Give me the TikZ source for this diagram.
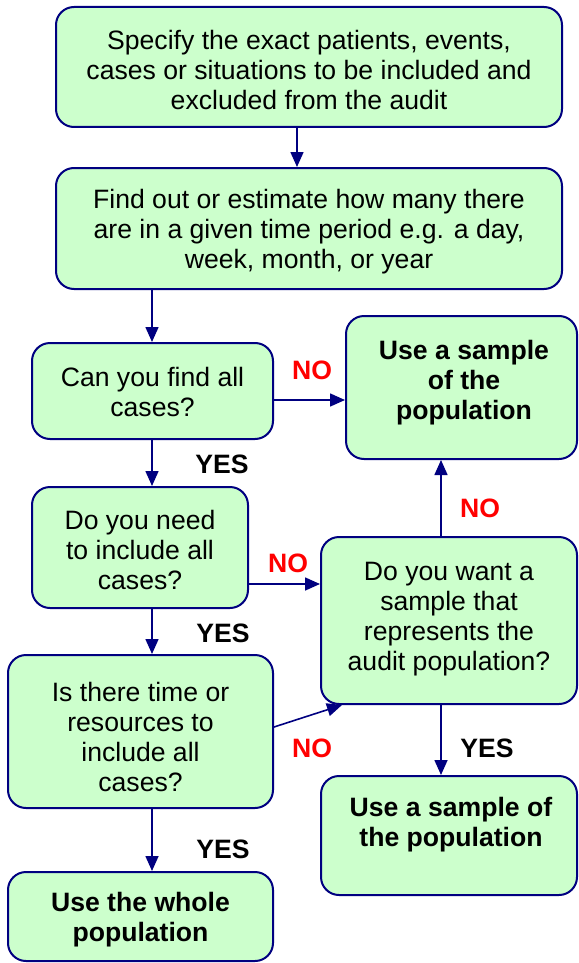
\documentclass[tikz,border=0pt]{standalone}
\usepackage{fontspec}
\setmainfont{Liberation Sans}
\usetikzlibrary{arrows.meta,calc}
\definecolor{boxfill}{HTML}{CCFFCC}
\definecolor{navy}{HTML}{000080}
\definecolor{nored}{HTML}{FF0000}
\begin{document}
\begin{tikzpicture}[x=1pt,y=-1pt,
 box/.style={draw=navy, line width=2pt, fill=boxfill, rounded corners=18pt, inner sep=0pt},
 txt/.style={align=center, font=\fontsize{26.6}{30}\selectfont, inner sep=0pt},
 txtb/.style={align=center, font=\fontsize{26.6}{30}\selectfont\bfseries, inner sep=0pt},
 arr/.style={draw=navy, line width=1.6pt, -{Triangle[length=15pt,width=13pt]}},
 lblno/.style={font=\fontsize{26.6}{30}\selectfont\bfseries, text=nored, inner sep=0pt},
 lblyes/.style={font=\fontsize{26.6}{30}\selectfont\bfseries, inner sep=0pt}]
\useasboundingbox (0,0) rectangle (578,963);
% boxes
\node[box, minimum width=506pt, minimum height=120pt] (b1) at (309,67) {};
\node[txt] (t1) at (309,70) {Specify the exact patients, events,\\cases or situations to be included and\\excluded from the audit};
\node[box, minimum width=506pt, minimum height=121pt] (b2) at (309,228.5) {};
\node[txt] (t2) at (309,232) {Find out or estimate how many there\\are in a given time period e.g. a day,\\week, month, or year};
\node[box, minimum width=241pt, minimum height=96pt] (b3) at (152.5,391) {};
\node[txt] (t3) at (152.5,392) {Can you find all\\cases?};
\node[box, minimum width=231pt, minimum height=143pt] (b4) at (461.5,387.5) {};
\node[txtb] (t4) at (464,383) {Use a sample\\of the\\population};
\node[box, minimum width=216pt, minimum height=121pt] (b5) at (140,547.5) {};
\node[txt] (t5) at (140,550) {Do you need\\to include all\\cases?};
\node[box, minimum width=256pt, minimum height=167pt] (b6) at (449,620.5) {};
\node[txt] (t6) at (449,619) {Do you want a\\sample that\\represents the\\audit population?};
\node[box, minimum width=265pt, minimum height=153pt] (b7) at (140.5,731.5) {};
\node[txt] (t7) at (140.5,737) {Is there time or\\resources to\\include all\\cases?};
\node[box, minimum width=256pt, minimum height=119pt] (b8) at (449,835.5) {};
\node[txtb] (t8) at (451,825) {Use a sample of\\the population};
\node[box, minimum width=265pt, minimum height=89pt] (b9) at (140.5,916.5) {};
\node[txtb] (t9) at (140.5,920) {Use the whole\\population};
% column / row helpers
\coordinate (cA) at (152,0);
\coordinate (cB) at (441,0);
\coordinate (cC) at (297,0);
\coordinate (r3) at (0,400);
\coordinate (r5) at (0,584);
% connectors
\draw[arr] (b1.south -| cC) -- (b2.north -| cC);
\draw[arr] (b2.south -| cA) -- (b3.north -| cA);
\draw[arr] (b3.east |- r3) -- (b4.west |- r3);
\draw[arr] (b3.south -| cA) -- (b5.north -| cA);
\draw[arr] (b5.east |- r5) -- (b6.west |- r5);
\draw[arr] (b6.north -| cB) -- (b4.south -| cB);
\draw[arr] (b5.south -| cA) -- (b7.north -| cA);
\draw[arr] ($(b7.east)+(0,-4.5)$) -- ($(b6.south west)+(22,0)$);
\draw[arr] (b6.south -| cB) -- (b8.north -| cB);
\draw[arr] (b7.south -| cA) -- (b9.north -| cA);
% labels
\node[lblno] (n1) at (312,370) {NO};
\node[lblyes] (y1) at (222,464) {YES};
\node[lblno] (n2) at (288,563) {NO};
\node[lblyes] (y2) at (223,633) {YES};
\node[lblno] (n3) at (480,508) {NO};
\node[lblno] (n4) at (312,748) {NO};
\node[lblyes] (y3) at (487,748) {YES};
\node[lblyes] (y4) at (223,849) {YES};
\end{tikzpicture}
\end{document}
